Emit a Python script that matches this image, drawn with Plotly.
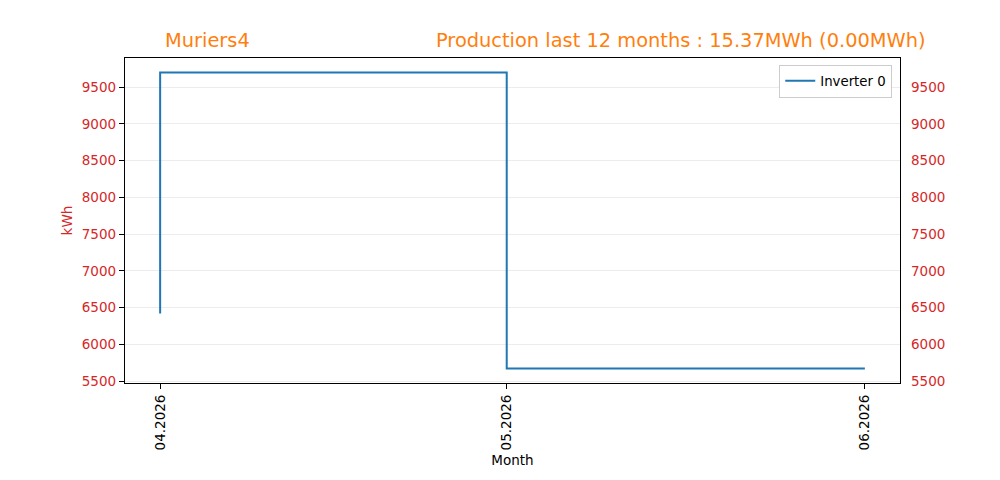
import plotly.graph_objects as go

months = ["2026-04-01", "2026-05-01", "2026-06-01"]
month_labels = ["04.2026", "05.2026", "06.2026"]
inverter0 = [6420, 9700, 5670]
y_ticks = [5500, 6000, 6500, 7000, 7500, 8000, 8500, 9000, 9500]

RED = "#d62728"
ORANGE = "#ff7f0e"
FONT = "DejaVu Sans"

fig = go.Figure()
fig.add_trace(go.Scatter(x=months, y=inverter0, mode="lines", line_shape="vh",
                         line=dict(color="#1f77b4", width=2), name="Inverter 0"))
# invisible trace for right axis
fig.add_trace(go.Scatter(x=months, y=inverter0, mode="lines", yaxis="y2",
                         line=dict(width=0), opacity=0, showlegend=False, hoverinfo="skip"))

yr = [5474, 9896]
xr = ["2026-03-28 23:00", "2026-06-04 01:00"]

fig.update_layout(
    width=1000, height=480,
    margin=dict(l=125, r=100, t=58, b=97),
    paper_bgcolor="white", plot_bgcolor="white",
    font=dict(family=FONT, size=13.5, color="black"),
    showlegend=True,
    legend=dict(x=0.99, y=0.98, xanchor="right", yanchor="top",
                bordercolor="#cccccc", borderwidth=1, bgcolor="white",
                font=dict(size=13.3), tracegroupgap=0),
    xaxis=dict(range=xr, type="date", tickvals=months, ticktext=month_labels,
               tickangle=-90, ticks="outside", ticklen=5, tickcolor="black",
               showline=True, linecolor="black", linewidth=1.3, mirror=True,
               showgrid=False, zeroline=False,
               title=dict(text="Month", standoff=6, font=dict(size=13.5))),
    yaxis=dict(range=yr, tickvals=y_ticks, ticks="outside", ticklen=5, tickcolor="black",
               tickfont=dict(color=RED), showline=True, linecolor="black", linewidth=1.3,
               mirror=True, showgrid=True, gridcolor="#ececec", gridwidth=1, zeroline=False,
               title=dict(text="kWh", font=dict(color=RED, size=13.5), standoff=6)),
    yaxis2=dict(range=yr, tickvals=y_ticks, overlaying="y", side="right", ticks="",
                tickfont=dict(color=RED), showgrid=False, zeroline=False, showline=False,
                ticklabelstandoff=10),
    annotations=[
        dict(text="Muriers4", x=(207 - 125) / 775, y=1.0, xref="paper", yref="paper",
             xanchor="center", yanchor="bottom", yshift=4, showarrow=False,
             font=dict(color=ORANGE, size=19.4)),
        dict(text="Production last 12 months : 15.37MWh (0.00MWh)", x=1.0, y=1.0,
             xref="paper", yref="paper", xanchor="right", yanchor="bottom", yshift=4,
             xshift=27.5, showarrow=False, font=dict(color=ORANGE, size=19.4)),
    ],
)
fig.write_html("out.html")
